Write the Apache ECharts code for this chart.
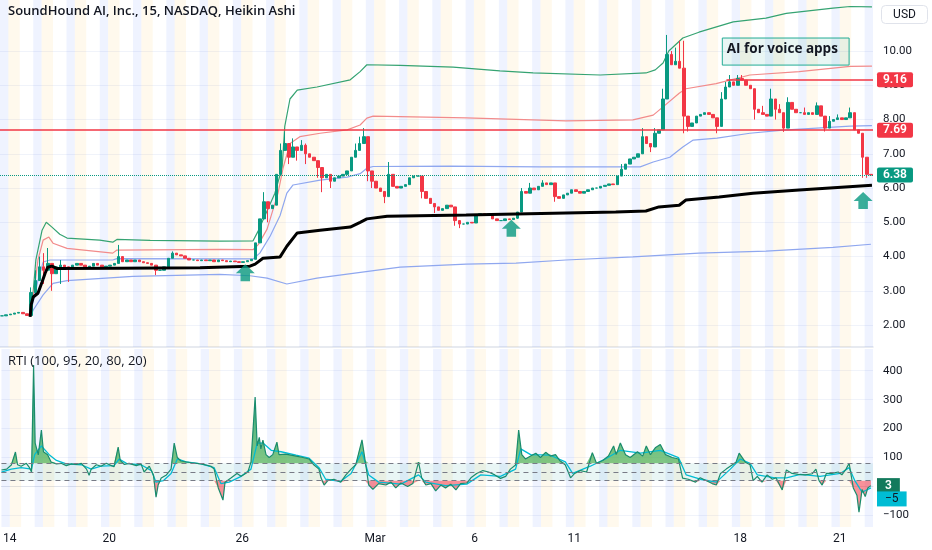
<!DOCTYPE html>
<html>
<head>
<meta charset="utf-8">
<script src="https://cdn.jsdelivr.net/npm/echarts/dist/echarts.min.js"></script>
<style>
html,body{margin:0;padding:0;background:#fff;}
#chart{width:932px;height:550px;}
</style>
</head>
<body>
<div id="chart"></div>
<script>
// ---------------- DATA ----------------
const tradingDays = ['Feb 14','Feb 15','Feb 16','Feb 20','Feb 21','Feb 22','Feb 23','Feb 26','Feb 27','Feb 28','Feb 29',
  'Mar 1','Mar 4','Mar 5','Mar 6','Mar 7','Mar 8','Mar 11','Mar 12','Mar 13','Mar 14','Mar 15','Mar 18','Mar 19','Mar 20','Mar 21'];
const timeTickLabels = {'Feb 14':'14','Feb 20':'20','Feb 26':'26','Mar 1':'Mar','Mar 6':'6','Mar 11':'11','Mar 18':'18','Mar 21':'21'};

// Heikin Ashi closes, one per 2-hour block (8 bars of 15 min)
const closes = [
  2.27,2.30,2.32,2.35,2.37,2.33,2.28,2.95,3.30,3.70,
  3.60,3.80,3.50,3.70,3.75,3.70,3.65,3.75,3.80,3.75,
  3.70,3.72,3.80,3.75,3.70,3.72,3.75,3.80,4.00,3.85,
  3.90,3.85,3.90,3.85,3.82,3.80,3.75,3.60,3.60,3.70,
  3.95,4.10,4.05,4.02,3.95,3.90,3.90,3.88,3.90,3.88,
  3.90,3.85,3.90,3.88,3.85,3.87,3.85,3.83,3.85,3.88,
  3.92,4.40,5.10,5.60,5.40,5.50,6.40,7.10,7.30,6.90,
  7.20,7.10,7.25,7.00,6.90,6.80,6.60,6.30,6.40,6.20,
  6.30,6.35,6.40,6.50,6.90,7.10,7.30,7.50,6.50,6.20,
  6.00,5.90,5.75,6.40,6.05,6.00,6.05,6.10,6.30,6.35,
  6.35,5.90,5.70,5.55,5.45,5.35,5.40,5.50,5.45,5.05,
  4.95,4.95,5.00,4.98,5.20,5.25,5.20,5.25,5.10,5.05,
  5.05,5.10,5.08,5.12,5.30,5.90,5.85,6.00,5.95,6.05,
  6.15,6.10,6.15,5.75,5.70,5.80,5.85,5.95,5.90,5.85,
  5.90,5.95,6.00,6.00,6.05,6.08,6.12,6.10,6.35,6.55,
  6.70,6.85,6.90,7.00,7.50,7.30,7.20,7.60,7.70,8.60,
  9.90,9.60,9.70,9.50,8.10,7.80,7.90,8.10,8.15,8.20,
  8.15,8.05,7.80,8.60,8.95,9.10,9.00,9.20,9.15,9.00,
  8.90,8.30,8.20,8.15,8.10,8.60,8.30,8.20,7.75,8.50,
  8.30,8.20,8.20,8.15,8.20,8.15,8.40,8.10,7.75,7.95,
  8.00,8.05,8.00,8.05,8.20,7.70,7.60,6.90,6.40,6.38
];
const wickHighs = {7:3.1,8:3.6,9:4.0,10:4.1,11:4.25,12:3.8,14:3.9,28:4.34,41:4.15,63:5.88,67:7.3,68:7.63,70:7.45,72:7.4,73:7.3,
  85:7.3,86:7.5,87:7.75,93:6.76,125:6.0,127:6.15,130:6.23,149:6.7,154:7.75,157:7.75,159:8.9,160:10.47,161:10.0,162:10.1,163:10.3,164:10.3,
  173:8.8,174:9.1,175:9.3,177:9.3,178:9.3,183:8.4,185:8.9,187:8.45,189:8.65,190:8.5,193:8.35,196:8.5,199:8.1,201:8.15,204:8.35};
const wickLows = {8:2.9,10:3.2,12:3.0,14:3.2,16:3.26,37:3.46,62:4.9,64:5.0,66:5.5,69:6.7,71:6.8,73:6.7,76:6.3,77:5.88,79:6.0,84:6.5,
  88:6.2,89:6.0,92:5.56,101:5.7,104:5.27,109:4.9,110:4.83,124:5.1,125:5.3,133:5.6,148:6.1,156:7.05,164:7.6,165:7.65,172:7.6,
  181:8.0,186:8.0,188:7.64,198:7.65,207:6.3,208:6.3};

// bands: [bar index (15-min bars from Feb 13 16:00), price]
const greenBand = [[58,2.24],[64,3.0],[69,3.9],[81,4.77],[89,5.0],[92,5.04],[100,4.86],[115,4.65],[129,4.54],[192,4.48],[217,4.42],[225,4.5],[289,4.47],[423,4.45],[487,4.46],[497,4.75],[510,5.2],[529,5.85],[543,6.6],[548,7.8],[558,8.6],[572,8.86],[610,8.95],[674,9.16],[693,9.4],[706,9.6],[770,9.58],[872,9.53],[962,9.42],[1026,9.36],[1155,9.3],[1243,9.36],[1261,9.45],[1276,9.65],[1287,10.0],[1314,10.38],[1345,10.55],[1411,10.85],[1474,10.96],[1513,11.1],[1603,11.25],[1636,11.3],[1678,11.29]];
const redBand = [[58,2.24],[64,2.8],[73,3.9],[83,4.48],[94,4.57],[102,4.39],[129,4.24],[217,4.1],[225,4.19],[423,4.21],[487,4.2],[497,4.35],[514,4.8],[535,5.85],[545,6.6],[558,7.3],[577,7.5],[616,7.6],[668,7.7],[693,7.84],[706,8.04],[718,8.1],[897,8.05],[1089,7.96],[1218,7.99],[1257,8.13],[1276,8.37],[1307,8.77],[1320,8.9],[1378,9.05],[1443,9.3],[1538,9.4],[1636,9.55],[1678,9.56]];
const blueUpper = [[58,2.24],[64,2.7],[73,3.3],[83,3.84],[96,3.9],[217,3.9],[225,3.94],[487,3.93],[500,4.1],[520,4.6],[539,5.2],[552,5.85],[564,6.09],[616,6.23],[668,6.32],[693,6.42],[706,6.58],[718,6.63],[866,6.64],[1039,6.62],[1232,6.62],[1257,6.76],[1289,6.9],[1314,7.2],[1334,7.4],[1380,7.46],[1443,7.6],[1507,7.69],[1636,7.81],[1678,7.82]];
const blueLower = [[58,2.24],[64,2.44],[83,2.88],[102,3.22],[129,3.3],[256,3.42],[423,3.48],[481,3.44],[514,3.37],[552,3.2],[610,3.37],[770,3.69],[897,3.78],[993,3.81],[1089,3.9],[1218,3.99],[1345,4.1],[1474,4.16],[1603,4.27],[1676,4.36]];
const anchorLine = [[58,2.24],[60,2.6],[64,2.82],[73,2.93],[81,3.26],[87,3.52],[92,3.69],[100,3.72],[110,3.65],[225,3.66],[385,3.67],[481,3.72],[491,3.78],[506,3.95],[539,3.99],[552,4.3],[572,4.69],[616,4.77],[674,4.86],[693,5.0],[706,5.1],[745,5.18],[897,5.21],[993,5.24],[1185,5.3],[1243,5.33],[1268,5.45],[1307,5.5],[1320,5.65],[1384,5.74],[1449,5.85],[1538,5.94],[1678,6.08]];

const priceTicks = [2,3,4,5,6,7,8,9,10];
const resistanceLevels = [9.16, 7.69];
const levelStartBars = [1398, 0];
const lastPrice = 6.38;
const arrowPoints = [[472,3.53],[984,4.83],[1661,5.64]];
const noteText = 'AI for voice apps';
const noteCorners = [[1390,10.38],[1634,9.59]];

// RTI pane
const rtiLine = [[0,57],[10,60],[19,74],[27,119],[31,75],[38,70],[48,80],[54,65],[58,50],[62,420],[65,150],[71,109],[77,195],[81,120],[89,110],[96,84],[106,78],[115,80],[125,72],[135,78],[144,76],[154,80],[164,60],[169,39],[173,60],[183,75],[192,70],[202,80],[212,72],[217,68],[225,136],[229,90],[237,76],[246,80],[260,72],[269,78],[275,50],[285,70],[293,40],[298,-37],[302,5],[308,29],[318,40],[327,60],[333,150],[339,100],[346,88],[366,82],[385,78],[404,70],[410,60],[418,-5],[427,-47],[431,15],[443,30],[454,45],[462,35],[475,50],[481,84],[489,309],[493,140],[497,170],[500,130],[504,160],[510,110],[516,100],[523,110],[531,153],[535,110],[548,112],[568,105],[581,100],[593,95],[602,75],[612,60],[616,30],[622,5],[629,20],[641,25],[654,15],[664,40],[674,60],[683,75],[695,161],[701,90],[708,5],[716,-10],[727,10],[741,5],[751,15],[760,-5],[770,12],[783,0],[793,10],[804,84],[810,30],[818,5],[828,10],[837,-15],[847,5],[856,-5],[866,8],[876,-12],[885,10],[897,12],[905,30],[916,45],[928,55],[939,50],[951,40],[962,28],[972,35],[981,60],[991,74],[997,195],[1003,110],[1010,95],[1020,105],[1030,115],[1039,100],[1049,118],[1058,105],[1068,110],[1076,90],[1087,74],[1097,30],[1105,45],[1116,55],[1128,50],[1139,117],[1147,80],[1159,90],[1170,105],[1180,140],[1185,110],[1193,150],[1203,110],[1212,100],[1226,120],[1236,105],[1243,140],[1251,110],[1261,135],[1270,145],[1280,110],[1293,100],[1305,95],[1313,29],[1324,25],[1338,15],[1347,30],[1359,20],[1370,10],[1378,5],[1386,45],[1397,60],[1409,75],[1416,84],[1422,115],[1434,84],[1443,75],[1449,20],[1457,35],[1466,15],[1476,40],[1486,25],[1493,30],[1505,-12],[1513,57],[1524,45],[1536,42],[1549,40],[1563,44],[1570,60],[1576,20],[1582,5],[1590,45],[1601,45],[1613,50],[1620,40],[1628,60],[1634,80],[1642,-5],[1649,-30],[1653,-89],[1659,-10],[1665,-35],[1670,-5],[1676,3]];
const rtiSignal = [[0,50],[19,60],[38,65],[58,60],[64,110],[77,140],[92,110],[106,90],[125,78],[154,75],[173,60],[192,70],[217,72],[227,95],[241,80],[269,75],[289,55],[298,15],[312,20],[327,45],[339,95],[356,85],[385,78],[410,65],[423,10],[439,15],[462,35],[481,60],[493,150],[504,150],[520,125],[539,120],[568,108],[593,98],[612,65],[625,25],[654,18],[674,45],[695,120],[708,40],[727,15],[770,8],[804,40],[818,15],[856,3],[897,8],[924,40],[962,35],[991,60],[1001,130],[1020,110],[1058,108],[1087,85],[1101,45],[1135,70],[1164,95],[1193,125],[1232,115],[1270,125],[1305,100],[1320,40],[1347,25],[1378,15],[1405,60],[1424,95],[1443,80],[1457,40],[1491,30],[1513,30],[1540,42],[1578,35],[1617,45],[1634,65],[1645,20],[1659,-20],[1676,-5]];
const rtiTicks = [-100,100,200,300,400];
const rtiLevels = [80, 50, 20];
const rtiUpper = 80, rtiLowerLevel = 20;
const rtiLast = 3, signalLast = -5;

// ---------------- SESSION LAYOUT ----------------
const BARS_PER_DAY = 64, PRE_BARS = 22, REG_BARS = 26, FIRST_DAY_BAR = 16, TOTAL_BARS = 1680;
const C = {
  up:'#089981', down:'#f23645', text:'#131722', grid:'#f0f3fa',
  pre:'rgba(255,170,0,0.07)', post:'rgba(41,98,255,0.075)',
  green:'#35a372', red:'#f28b8b', blue:'#8fa7ef', rti:'#1a8c6c', signal:'#00bcd4'
};
const FONT = 'Roboto, "Open Sans", sans-serif';

const stripes = [[{xAxis:0, itemStyle:{color:C.post}},{xAxis:FIRST_DAY_BAR}]];
tradingDays.forEach((d,k)=>{
  const s = FIRST_DAY_BAR + k*BARS_PER_DAY;
  stripes.push([{xAxis:s, itemStyle:{color:C.pre}},{xAxis:s+PRE_BARS}]);
  stripes.push([{xAxis:s+PRE_BARS+REG_BARS, itemStyle:{color:C.post}},{xAxis:s+BARS_PER_DAY}]);
});
const dayTickBars = [], barToLabel = {};
tradingDays.forEach((d,k)=>{
  if (timeTickLabels[d]) { const b = FIRST_DAY_BAR + k*BARS_PER_DAY; dayTickBars.push(b); barToLabel[b] = timeTickLabels[d]; }
});

const candleData = closes.map((c,i)=>{
  const o = i===0 ? c : closes[i-1];
  let lo = Math.min(o,c), hi = Math.max(o,c);
  if (wickLows[i] != null) lo = Math.min(lo, wickLows[i]);
  if (wickHighs[i] != null) hi = Math.max(hi, wickHighs[i]);
  return [o, c, lo, hi];
});
const candleCats = closes.map((c,i)=>String(i));

const lineSeries = (data, color, width, z) => ({
  type:'line', xAxisIndex:0, yAxisIndex:0, data, symbol:'none', z,
  lineStyle:{color, width}, silent:true
});

const priceLabel = (bg, v) => ({
  show:true, position:'end', distance:4, formatter:v.toFixed(2),
  backgroundColor:bg, color:'#fff', fontSize:12, fontWeight:600, fontFamily:FONT,
  padding:[2,6,1,6], borderRadius:2
});

const levelLines = resistanceLevels.map((v,i)=>[
  {coord:[levelStartBars[i], v], lineStyle:{color:C.down, width:1.5, type:'solid'}, label:priceLabel(C.down, v)},
  {coord:[TOTAL_BARS, v]}
]);
levelLines.push([
  {coord:[0,lastPrice], lineStyle:{color:C.up, width:1, type:'dotted'}, label:priceLabel(C.up, lastPrice)},
  {coord:[TOTAL_BARS,lastPrice]}
]);

const option = {
  animation:false,
  backgroundColor:'#ffffff',
  textStyle:{fontFamily:FONT},
  title:[
    {text:'SoundHound AI, Inc., 15, NASDAQ, Heikin Ashi', left:8, top:5, padding:0,
     textStyle:{fontSize:13, fontWeight:600, color:C.text, fontFamily:'"Open Sans", sans-serif'}},
    {text:'RTI (100, 95, 20, 80, 20)', left:8, top:355, padding:0,
     textStyle:{fontSize:13, fontWeight:'normal', color:C.text, fontFamily:'"Open Sans", sans-serif'}}
  ],
  grid:[
    {left:0, right:59, top:0, height:347},
    {left:0, right:59, top:349, height:178}
  ],
  xAxis:[
    {type:'value', gridIndex:0, min:0, max:TOTAL_BARS, axisLabel:{show:false}, axisTick:{show:false},
     splitLine:{show:false}, axisLine:{show:true, lineStyle:{color:'#e0e3eb', width:1.5}}},
    {type:'category', gridIndex:0, data:candleCats, show:false, boundaryGap:true},
    {type:'value', gridIndex:1, min:0, max:TOTAL_BARS,
     axisLine:{show:true, lineStyle:{color:'#e0e3eb'}}, axisTick:{show:false}, splitLine:{show:false},
     axisLabel:{customValues:dayTickBars, formatter:(v)=>barToLabel[v]||'', color:C.text, fontSize:12, margin:6, fontFamily:FONT}}
  ],
  yAxis:[
    {type:'value', gridIndex:0, position:'right', min:1.36, max:11.49,
     axisLine:{show:false},
     axisTick:{show:false, customValues:priceTicks},
     splitLine:{show:true, lineStyle:{color:C.grid}},
     axisLabel:{customValues:priceTicks, formatter:(v)=>v.toFixed(2), color:C.text, fontSize:11.5, margin:10, fontFamily:FONT}},
    {type:'value', gridIndex:1, position:'right', min:-140, max:475,
     axisLine:{show:false},
     axisTick:{show:false, customValues:rtiTicks},
     splitLine:{show:true, lineStyle:{color:C.grid}},
     axisLabel:{customValues:rtiTicks, formatter:(v)=>String(v).replace('-','\u2212'), color:C.text, fontSize:11.5, margin:10, fontFamily:FONT}}
  ],
  graphic:[
    {type:'group', right:4, top:5, children:[
      {type:'rect', shape:{x:0,y:0,width:46,height:18,r:4}, style:{fill:'#fff', stroke:'#e0e3eb', lineWidth:1}},
      {type:'text', x:23, y:9, style:{text:'USD', fill:C.text, font:'12px Roboto, sans-serif', textAlign:'center', textVerticalAlign:'middle'}}
    ]}
  ],
  series:[
    {type:'line', xAxisIndex:0, yAxisIndex:0, data:[], z:0, silent:true,
     markArea:{silent:true, data:stripes}},
    {type:'line', xAxisIndex:2, yAxisIndex:1, data:[], z:0, silent:true,
     markArea:{silent:true, data:stripes}},
    lineSeries(greenBand, C.green, 1.2, 3),
    lineSeries(redBand, C.red, 1.2, 3),
    lineSeries(blueUpper, C.blue, 1.2, 3),
    lineSeries(blueLower, C.blue, 1.2, 3),
    {type:'candlestick', xAxisIndex:1, yAxisIndex:0, data:candleData, barWidth:3, z:4, silent:true,
     itemStyle:{color:C.up, color0:C.down, borderColor:C.up, borderColor0:C.down, borderWidth:1}},
    lineSeries(anchorLine, '#000000', 3, 5),
    {type:'line', xAxisIndex:0, yAxisIndex:0, data:[], z:6, silent:true,
     markLine:{silent:true, symbol:'none', data:levelLines}},
    {type:'line', xAxisIndex:0, yAxisIndex:0, data:[], z:6, silent:true,
     markArea:{silent:true,
       itemStyle:{color:'rgba(8,153,129,0.09)', borderColor:'#22ab94', borderWidth:1},
       label:{show:true, position:'insideTopLeft', formatter:'{b}', color:C.text, fontSize:13.5, fontWeight:'bold', fontFamily:'"Open Sans", sans-serif'},
       data:[[{name:noteText, coord:noteCorners[0]},{coord:noteCorners[1]}]]}},
    {type:'scatter', xAxisIndex:0, yAxisIndex:0, data:arrowPoints, z:7, silent:true,
     symbol:'path://M10,0 L20,9 L15,9 L15,17 L5,17 L5,9 L0,9 Z', symbolSize:[19,17],
     itemStyle:{color:C.up}},
    // RTI pane
    {type:'line', xAxisIndex:2, yAxisIndex:1, data:[], z:1, silent:true,
     markArea:{silent:true, data:[[{yAxis:rtiLowerLevel, itemStyle:{color:'rgba(38,166,154,0.10)'}},{yAxis:rtiUpper}]]},
     markLine:{silent:true, symbol:'none', label:{show:false},
       lineStyle:{color:'#787b86', type:[5,4], width:1}, data:rtiLevels.map(v=>({yAxis:v}))}},
    {type:'line', xAxisIndex:2, yAxisIndex:1, symbol:'none', z:2, silent:true,
     data:rtiLine.map(([t,v])=>[t, Math.max(v,rtiUpper)]), lineStyle:{width:0},
     areaStyle:{origin:rtiUpper, opacity:1, color:new echarts.graphic.LinearGradient(0,0,0,1,[
       {offset:0,color:'rgba(8,153,129,0.95)'},{offset:1,color:'rgba(76,175,80,0.7)'}])}},
    {type:'line', xAxisIndex:2, yAxisIndex:1, symbol:'none', z:2, silent:true,
     data:rtiLine.map(([t,v])=>[t, Math.min(v,rtiLowerLevel)]), lineStyle:{width:0},
     areaStyle:{origin:rtiLowerLevel, opacity:1, color:'rgba(242,54,69,0.55)'}},
    {type:'line', xAxisIndex:2, yAxisIndex:1, data:rtiSignal, symbol:'none', z:3, silent:true,
     lineStyle:{color:C.signal, width:1.3}},
    {type:'line', xAxisIndex:2, yAxisIndex:1, data:rtiLine, symbol:'none', z:4, silent:true,
     lineStyle:{color:C.rti, width:1.2}},
    {type:'line', xAxisIndex:2, yAxisIndex:1, data:[], z:8, silent:true,
     markLine:{silent:true, symbol:'none', data:[
       {yAxis:rtiLast, lineStyle:{color:'rgba(0,0,0,0)', width:0},
        label:{show:true, position:'end', distance:4, formatter:String(rtiLast),
          backgroundColor:'#137a5c', color:'#fff', fontSize:12, fontWeight:600, padding:[2,8,1,8]}},
       {yAxis:signalLast, lineStyle:{color:'rgba(0,0,0,0)', width:0},
        label:{show:true, position:'end', distance:4, formatter:String(signalLast).replace('-','\u2212'),
          backgroundColor:C.signal, color:C.text, fontSize:12, padding:[2,8,1,8], offset:[0,11]}}
     ]}}
  ]
};

const chart = echarts.init(document.getElementById('chart'), null, {renderer:'canvas'});
chart.setOption(option);
</script>
</body>
</html>
